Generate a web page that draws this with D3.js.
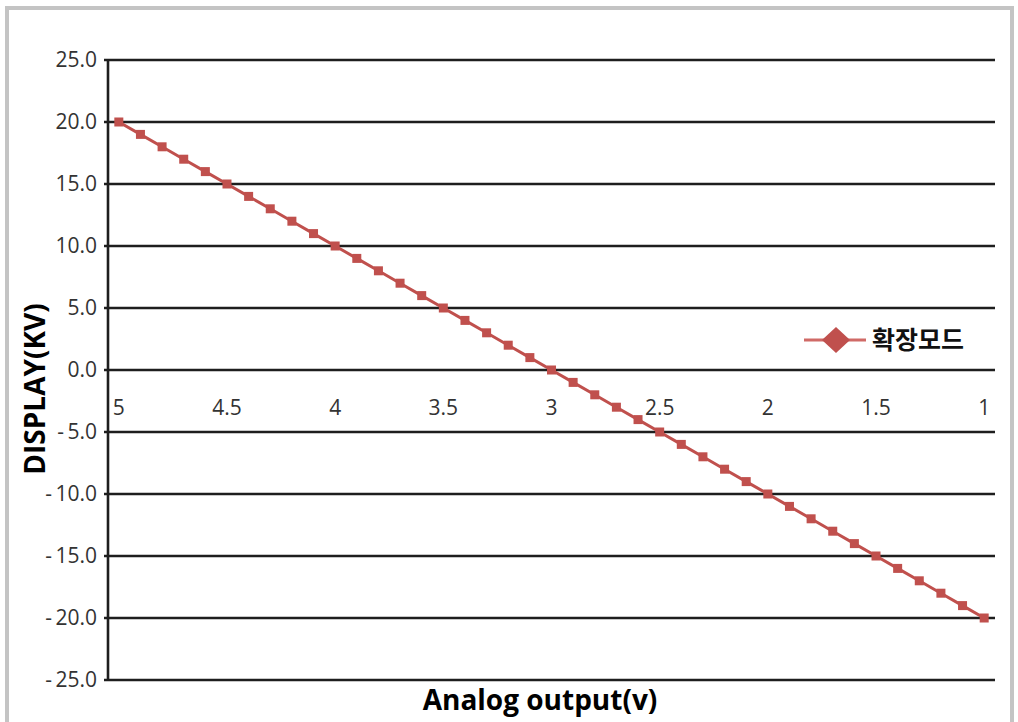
<!DOCTYPE html>
<html><head><meta charset="utf-8">
<script src="https://cdn.jsdelivr.net/npm/d3@7"></script>
<style>body{margin:0;background:#fff;}svg{display:block;}</style>
</head><body><svg id="c" width="1018" height="722"></svg>
<script>
const categories = ["5","4.9","4.8","4.7","4.6","4.5","4.4","4.3","4.2","4.1","4","3.9","3.8","3.7","3.6","3.5","3.4","3.3","3.2","3.1","3","2.9","2.8","2.7","2.6","2.5","2.4","2.3","2.2","2.1","2","1.9","1.8","1.7","1.6","1.5","1.4","1.3","1.2","1.1","1"];
const values = [20,19,18,17,16,15,14,13,12,11,10,9,8,7,6,5,4,3,2,1,0,-1,-2,-3,-4,-5,-6,-7,-8,-9,-10,-11,-12,-13,-14,-15,-16,-17,-18,-19,-20];
const xTickLabels = ["5","4.5","4","3.5","3","2.5","2","1.5","1"];
const yTicks = [25,20,15,10,5,0,-5,-10,-15,-20,-25];
const seriesName = "확장모드";
const yTitle = "DISPLAY(KV)";
const xTitle = "Analog output(v)";

const svg = d3.select("#c");
const font = "'Open Sans','Noto Sans CJK KR',sans-serif";
const kfont = "'Noto Sans CJK KR',sans-serif";
// outer frame
svg.append("rect").attr("x",7).attr("y",8).attr("width",1005).attr("height",730)
  .attr("fill","#fff").attr("stroke","#c4c4c4").attr("stroke-width",4);

const L=108,R=995,T=60,B=680;
const x = d3.scalePoint().domain(categories).range([L,R]).padding(0.5);
const y = d3.scaleLinear().domain([-25,25]).range([B,T]);

// gridlines
svg.append("g").selectAll("line").data(yTicks).join("line")
  .attr("x1",L-4).attr("x2",R).attr("y1",d=>y(d)).attr("y2",d=>y(d))
  .attr("stroke","#1e1e1e").attr("stroke-width",2.6);
// y axis line
svg.append("line").attr("x1",L).attr("x2",L).attr("y1",T).attr("y2",B)
  .attr("stroke","#1e1e1e").attr("stroke-width",2.6);

// y labels
const fmt = d=> d<0 ? "-\u2009"+Math.abs(d).toFixed(1) : d.toFixed(1);
svg.append("g").selectAll("text").data(yTicks).join("text")
  .attr("x",L-11).attr("y",d=>y(d)).attr("dy","0.34em").attr("text-anchor","end")
  .attr("font-family",font).attr("font-size",21).attr("fill","#333").text(fmt);

// x labels at zero line
svg.append("g").selectAll("text").data(xTickLabels).join("text")
  .attr("x",d=>x(d)).attr("y",y(0)+45).attr("text-anchor","middle")
  .attr("font-family",font).attr("font-size",21).attr("fill","#333").text(d=>d);

// series
const pts = categories.map((c,i)=>({c,v:values[i]}));
svg.append("path").datum(pts).attr("fill","none").attr("stroke","#c0504d").attr("stroke-width",3)
  .attr("d",d3.line().x(d=>x(d.c)).y(d=>y(d.v)));
svg.append("g").selectAll("rect").data(pts).join("rect")
  .attr("x",d=>x(d.c)-4.5).attr("y",d=>y(d.v)-4.5).attr("width",9).attr("height",9)
  .attr("fill","#c0504d");

// legend
const ly=340;
svg.append("line").attr("x1",804).attr("x2",866).attr("y1",ly).attr("y2",ly)
  .attr("stroke","#d06a67").attr("stroke-width",3);
svg.append("path").attr("d",`M836,${ly-13}L850,${ly}L836,${ly+13}L822,${ly}Z`).attr("fill","#c0504d");
svg.append("text").attr("x",872).attr("y",ly).attr("dy","0.36em")
  .attr("font-family",kfont).attr("font-weight","bold").attr("font-size",25).attr("fill","#111").text(seriesName);

// titles
svg.append("text").attr("transform",`translate(45,389) rotate(-90)`).attr("text-anchor","middle")
  .attr("font-family",font).attr("font-weight","bold").attr("font-size",28).attr("fill","#000").text(yTitle);
svg.append("text").attr("x",540).attr("y",710).attr("text-anchor","middle")
  .attr("font-family",font).attr("font-weight","bold").attr("font-size",28).attr("fill","#000").text(xTitle);
</script></body></html>
